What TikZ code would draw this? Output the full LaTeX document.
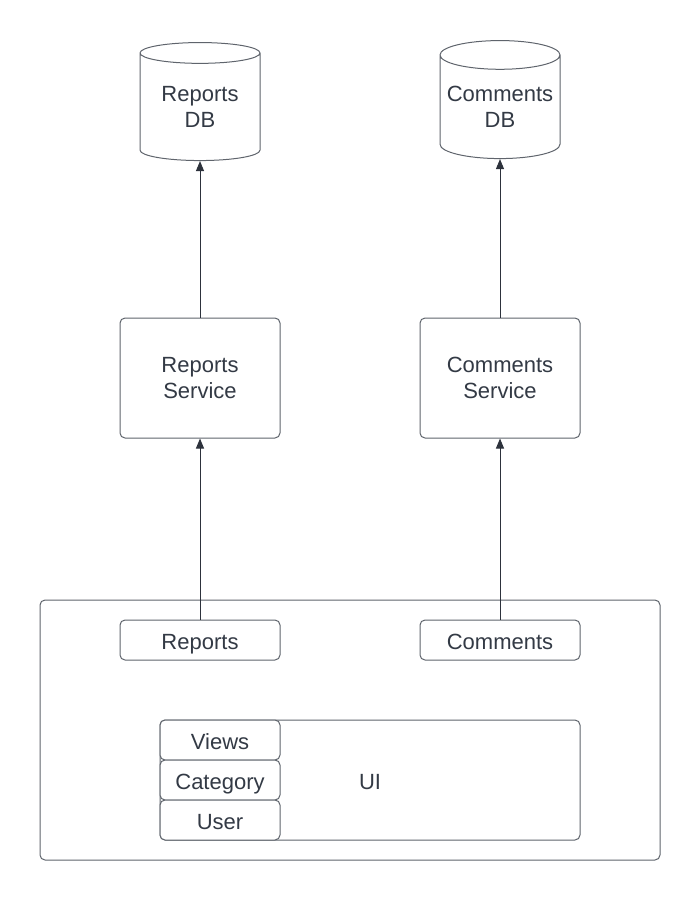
\documentclass[tikz,border=0pt]{standalone}
\usepackage{fontspec}
\setmainfont{Liberation Sans}
\usetikzlibrary{arrows.meta,shapes.geometric}
\definecolor{inkc}{RGB}{51,58,69}
\definecolor{edgec}{RGB}{95,100,108}
\definecolor{linkc}{RGB}{45,50,60}
\begin{document}
\begin{tikzpicture}[x=1pt,y=-1pt,
    font=\fontsize{22}{26}\selectfont, text=inkc,
    box/.style={draw=edgec,line width=1pt,rounded corners=5pt,fill=white,
      align=center,inner sep=0pt},
    tag/.style={draw=edgec,line width=1pt,rounded corners=5pt,fill=white,
      inner sep=0pt,text height=22pt,text depth=2.6pt},
    dbase/.style={draw=edgec,line width=1pt,fill=white,shape=cylinder,
      shape border rotate=90,aspect=0.27,minimum width=120pt,minimum height=118pt,
      align=center,inner sep=0pt},
    link/.style={draw=linkc,line width=1pt,-{Triangle[length=10pt,width=8pt]}}]
    \useasboundingbox (0,0) rectangle (700,900);
    % storage
    \node[dbase] (rdb) at (200,107) {Reports\\DB};
    \node[dbase] (cdb) at (500,107) {Comments\\DB};
    % services
    \node[box,minimum width=160pt,minimum height=120pt] (rsvc) at (200,378) {Reports\\Service};
    \node[box,minimum width=160pt,minimum height=120pt] (csvc) at (500,378) {Comments\\Service};
    % client side
    \node[box,minimum width=620pt,minimum height=260pt] (app) at (350,730) {};
    \node[tag,minimum width=160pt,minimum height=40pt] (rep) at (200,640) {Reports};
    \node[tag,minimum width=160pt,minimum height=40pt] (com) at (500,640) {Comments};
    \node[tag,minimum width=420pt,minimum height=120pt] (ui) at (370,780) {UI};
    \node[tag,minimum width=120pt,minimum height=40pt] (views) at (220,740) {Views};
    \node[tag,minimum width=120pt,minimum height=40pt] (cat) at (220,780) {Category};
    \node[tag,minimum width=120pt,minimum height=40pt] (user) at (220,820) {User};
    % calls
    \draw[link] (rep) -- (rsvc);
    \draw[link] (com) -- (csvc);
    \draw[link] (rsvc) -- (rdb);
    \draw[link] (csvc) -- (cdb);
\end{tikzpicture}
\end{document}
